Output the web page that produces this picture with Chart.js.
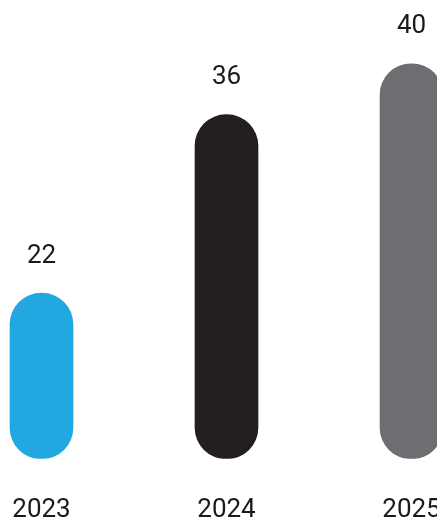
<!DOCTYPE html>
<html>
<head>
<meta charset="utf-8">
<script src="https://cdn.jsdelivr.net/npm/chart.js@4"></script>
<style>
  html, body {
    margin: 0;
    padding: 0;
    background: #ffffff;
    overflow: hidden;
  }
  .wrap {
    position: absolute;
    left: -51px;
    top: 0;
    width: 555px;
    height: 562px;
  }
</style>
</head>
<body>
<div class="wrap"><canvas id="yearChart"></canvas></div>
<script>
const years = ["2023", "2024", "2025"];
const counts = [22, 36, 40];
const barColors = ["#22A7E0", "#231F20", "#6D6E71"];
const axisMin = 9;
const axisMax = 45;

// value labels sitting above each pill
const valueLabelPlugin = {
  id: "valueLabels",
  afterDatasetsDraw: (chart) => {
    const ctx = chart.ctx;
    const meta = chart.getDatasetMeta(0);
    ctx.save();
    ctx.font = "26px Roboto";
    ctx.fillStyle = "#1a1a1a";
    ctx.textAlign = "center";
    ctx.textBaseline = "middle";
    meta.data.forEach((bar, i) => {
      ctx.fillText(String(counts[i]), bar.x, bar.y - 37);
    });
    ctx.restore();
  },
};

const canvas = document.getElementById("yearChart");

new Chart(canvas.getContext("2d"), {
  type: "bar",
  data: {
    labels: years,
    datasets: [
      {
        data: counts,
        base: axisMin,
        backgroundColor: barColors,
        borderRadius: 40,
        borderSkipped: false,
        barThickness: 63,
      },
    ],
  },
  options: {
    responsive: true,
    maintainAspectRatio: false,
    animation: false,
    layout: {
      padding: 0,
    },
    scales: {
      y: {
        display: false,
        min: axisMin,
        max: axisMax,
      },
      x: {
        border: { display: false },
        grid: { display: false, drawTicks: false },
        ticks: {
          color: "#1a1a1a",
          padding: 36,
          font: { family: "Roboto", size: 26 },
        },
      },
    },
    plugins: {
      legend: { display: false },
      tooltip: { enabled: false },
    },
  },
  plugins: [valueLabelPlugin],
});
</script>
</body>
</html>
